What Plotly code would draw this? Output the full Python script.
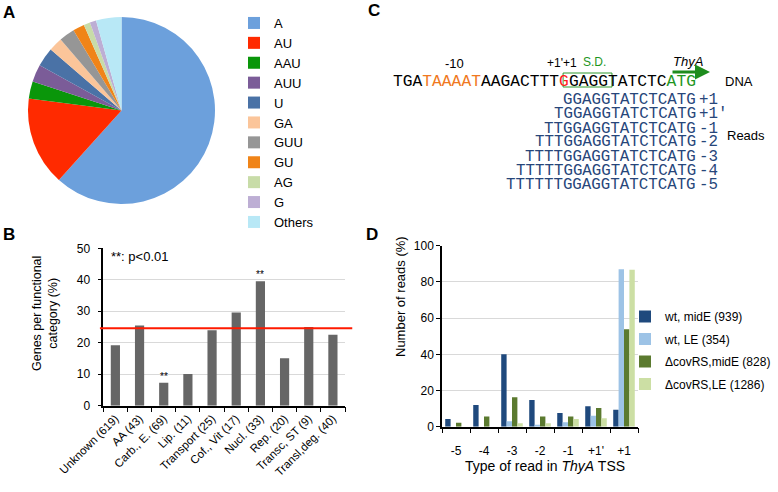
import plotly.graph_objects as go

W, H = 778, 492

# ---------------- Panel A data ----------------
pie_labels = ["A", "AU", "AAU", "AUU", "U", "GA", "GUU", "GU", "AG", "G", "Others"]
pie_values = [61.8, 15.4, 3.0, 3.0, 3.3, 2.4, 2.7, 2.0, 1.1, 1.1, 4.4]
pie_colors = ["#6CA0DC", "#FF2A00", "#0A960A", "#7B5C98", "#4A72A6", "#FBC59A",
              "#969696", "#F08418", "#C8DCA8", "#BDAED4", "#B8E8F6"]

# ---------------- Panel B data ----------------
cat_labels = ["Unknown (619)", "AA (43)", "Carb., E. (69)", "Lip. (11)", "Transport (25)",
              "Cof., Vit (17)", "Nucl. (33)", "Rep. (20)", "Transc, ST (9)", "Transl,deg. (40)"]
cat_values = [19.2, 25.5, 7.3, 10.1, 24.0, 29.6, 39.5, 15.1, 25.0, 22.5]
cat_signif = ["", "", "**", "", "", "", "**", "", "", ""]
genome_avg = 24.6

# ---------------- Panel C data ----------------
dna_parts = [("TGA", "black"), ("TAAAAT", "#F07820"), ("AAGACTTT", "black"),
             ("G", "#FF1A1A"), ("GAGGTATCTC", "black"), ("ATG", "#1E961E")]
read_seqs = ["GGAGGTATCTCATG", "TGGAGGTATCTCATG", "TTGGAGGTATCTCATG", "TTTGGAGGTATCTCATG",
             "TTTTGGAGGTATCTCATG", "TTTTTGGAGGTATCTCATG", "TTTTTTGGAGGTATCTCATG"]
read_tags = ["+1", "+1'", "-1", "-2", "-3", "-4", "-5"]

# ---------------- Panel D data ----------------
read_types = ["-5", "-4", "-3", "-2", "-1", "+1'", "+1"]
series_names = ["wt, midE (939)", "wt, LE (354)", "\u0394covRS,midE (828)", "\u0394covRS,LE (1286)"]
wt_midE = [4.3, 12.0, 40.0, 14.8, 7.6, 11.3, 9.4]
wt_LE = [0, 0, 3.0, 1.1, 2.4, 6.1, 87.0]
cov_midE = [2.2, 5.6, 16.3, 5.6, 5.6, 10.4, 53.9]
cov_LE = [0, 0, 1.9, 1.9, 4.3, 4.6, 86.7]
series_values = [wt_midE, wt_LE, cov_midE, cov_LE]
series_colors = ["#1F497D", "#9DC3E6", "#5B7A2F", "#CCDFA4"]

FONT = "Liberation Sans, Arial, sans-serif"
MONO = "Liberation Mono, Courier New, monospace"


def px(x):
    return x / W


def py(y):
    return 1 - y / H


fig = go.Figure()

# Panel A pie
fig.add_trace(go.Pie(
    labels=pie_labels, values=pie_values, sort=False, direction="clockwise", rotation=0,
    marker=dict(colors=pie_colors, line=dict(width=0)), textinfo="none", hoverinfo="label+percent",
    domain=dict(x=[px(28), px(215)], y=[py(204), py(17)]), legend="legend", showlegend=True,
))

# Panel B bars
fig.add_trace(go.Bar(
    x=cat_labels, y=cat_values, marker=dict(color="#666666", line=dict(width=0)),
    width=0.38, xaxis="x", yaxis="y", showlegend=False,
))

# Panel D bars
for name, vals, col in zip(series_names, series_values, series_colors):
    fig.add_trace(go.Bar(
        x=read_types, y=vals, name=name, marker=dict(color=col, line=dict(width=0)),
        xaxis="x2", yaxis="y2", legend="legend2", legendgroup=name,
    ))

line_common = dict(showline=True, linecolor="black", linewidth=1.5, ticks="outside",
                   tickcolor="black", automargin=False)
tf12 = dict(family=FONT, size=12, color="black")

fig.update_layout(
    width=W, height=H, margin=dict(l=0, r=0, t=0, b=0, autoexpand=False),
    paper_bgcolor="white", plot_bgcolor="white",
    font=dict(family=FONT, color="black"),
    barmode="group", bargap=0.23, bargroupgap=0,
    xaxis=dict(domain=[px(103.3), px(345)], type="category", tickson="boundaries", ticklen=5,
               tickangle=-45, anchor="y", tickfont=dict(family=FONT, size=11.5, color="black"),
               **line_common),
    yaxis=dict(domain=[py(405.7), py(248.3)], range=[0, 50], dtick=10, ticklen=4, anchor="x",
               showgrid=True, gridcolor="#D9D9D9", gridwidth=1.3, zeroline=False,
               ticklabelstandoff=5, tickfont=tf12, **line_common),
    xaxis2=dict(domain=[px(442), px(638)], type="category", tickson="boundaries", ticklen=5,
                anchor="y2", ticklabelstandoff=12, tickfont=tf12, **line_common),
    yaxis2=dict(domain=[py(426.7), py(245.7)], range=[0, 100], dtick=20, ticklen=4, anchor="x2",
                showgrid=True, gridcolor="#D9D9D9", gridwidth=1.3, zeroline=False,
                tickfont=tf12, **line_common),
    legend=dict(xref="container", yref="container", x=px(234), y=py(8), xanchor="left",
                yanchor="top", bgcolor="rgba(0,0,0,0)",
                font=dict(family=FONT, size=13, color="black")),
    legend2=dict(xref="container", yref="container", x=px(625), y=py(302), xanchor="left",
                 yanchor="top", bgcolor="rgba(0,0,0,0)",
                 font=dict(family=FONT, size=12, color="black"), tracegroupgap=3.5,
                 traceorder="grouped"),
)

ann = []
shapes = []


def txt(text, x, y, size=13, color="black", family=FONT, xanchor="center", **kw):
    d = dict(text=text, x=px(x), y=py(y), xref="paper", yref="paper", xanchor=xanchor,
             yanchor="middle", showarrow=False, borderpad=0,
             font=dict(size=size, family=family, color=color))
    d.update(kw)
    ann.append(d)


# Panel labels
for lab, x, y in [("A", 9, 12), ("B", 9, 234), ("C", 374, 11), ("D", 372, 234)]:
    txt("<b>%s</b>" % lab, x, y, size=17)

# Panel B texts
txt("Genes per functional<br>category (%)", 45, 314, size=12.5, textangle=-90)
txt("**: p<0.01", 110, 256, size=13, xanchor="left")
for c, v, s in zip(cat_labels, cat_values, cat_signif):
    if s:
        ann.append(dict(text=s, x=c, y=v, xref="x", yref="y", yanchor="bottom", xanchor="center",
                        yshift=-1, showarrow=False, font=dict(size=10, family=FONT, color="black")))
shapes.append(dict(type="line", xref="x domain", yref="y", x0=-0.014, x1=1.03,
                   y0=genome_avg, y1=genome_avg, line=dict(color="#FF1A00", width=2)))

# Panel C
cfs = 16.3
cw = cfs * 0.6
rfs = 15.8
dna_end = 697
dna_text = "".join('<span style="color:%s">%s</span>' % (col, s) if col != "black" else s
                   for s, col in dna_parts)
txt(dna_text, dna_end, 81, size=cfs, family=MONO, xanchor="right")
nseq = sum(len(s) for s, _ in dna_parts)
box_start = dna_end - (nseq - 17) * cw
shapes.append(dict(type="rect", xref="paper", yref="paper", x0=px(box_start + 3),
                   x1=px(box_start + 5 * cw + 3), y0=py(87), y1=py(73),
                   line=dict(color="#2E9A2E", width=1)))
for i, (seq, tag) in enumerate(zip(read_seqs, read_tags)):
    yy = 100.5 + 14 * i
    txt(seq, dna_end, yy, size=rfs, family=MONO, color="#27467A", xanchor="right")
    txt(tag, dna_end + 1, yy, size=rfs, family=MONO, color="#27467A", xanchor="left")
txt("-10", 455, 63)
txt("+1'+1", 562, 63, size=12)
txt("S.D.", 594, 62, size=12, color="#1E961E")
txt("<i>ThyA</i>", 688, 62)
ann.append(dict(text="", x=px(710), y=py(72), xref="paper", yref="paper", showarrow=True,
                axref="pixel", ayref="pixel", ax=-39, ay=0, arrowhead=2, arrowsize=1,
                arrowwidth=3, arrowcolor="#1E8C1E"))
txt("DNA", 724, 81, xanchor="left")
txt("Reads", 726, 136, xanchor="left")

# Panel D titles
txt("Number of reads (%)", 400, 297, size=13, textangle=-90)
txt("Type of read in <i>ThyA</i> TSS", 545, 466, size=14)

fig.update_layout(annotations=ann, shapes=shapes)

fig.write_html("out.html", post_script="document.body.style.margin='0';",
               config={"displayModeBar": False})
